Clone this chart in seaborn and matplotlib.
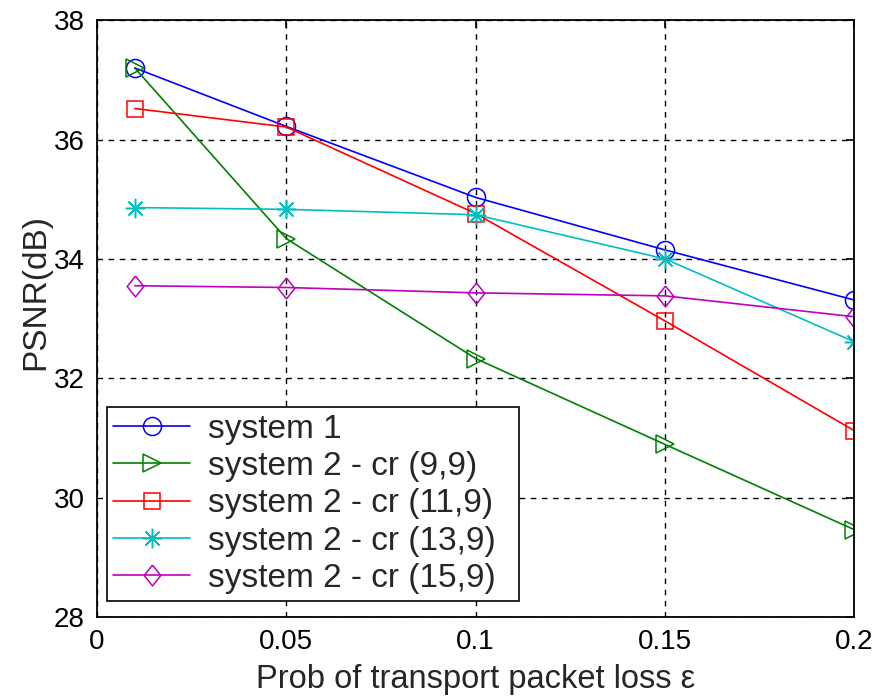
import numpy as np
import pandas as pd
import matplotlib
matplotlib.use("Agg")
import matplotlib.pyplot as plt
import seaborn as sns

# Data
loss_prob = [0.01, 0.05, 0.10, 0.15, 0.20]
psnr_sys1 = [37.20, 36.22, 35.03, 34.15, 33.31]
psnr_cr_9_9 = [37.20, 34.34, 32.33, 30.89, 29.46]
psnr_cr_11_9 = [36.52, 36.21, 34.76, 32.96, 31.12]
psnr_cr_13_9 = [34.86, 34.83, 34.74, 34.00, 32.61]
psnr_cr_15_9 = [33.55, 33.52, 33.43, 33.38, 33.03]

series_names = ["system 1", "system 2 - cr (9,9)", "system 2 - cr (11,9)",
                "system 2 - cr (13,9)", "system 2 - cr (15,9)"]
series_values = [psnr_sys1, psnr_cr_9_9, psnr_cr_11_9, psnr_cr_13_9, psnr_cr_15_9]

x_ticks = [0, 0.05, 0.1, 0.15, 0.2]
x_tick_labels = ["0", "0.05", "0.1", "0.15", "0.2"]
y_ticks = [28, 30, 32, 34, 36, 38]

sns.set_style("white")
plt.rcParams['font.family'] = ['Liberation Sans', 'DejaVu Sans']

# MATLAB-like colours and markers
diamond = [(0, 1), (0.8, 0), (0, -1), (-0.8, 0), (0, 1)]
colors = ['#0000ff', '#008000', '#ff0000', '#00bfbf', '#bf00bf']
markers = ['o', '>', 's', (8, 2, 0), diamond]
sizes = [13, 13, 11, 14, 15]

fig, ax = plt.subplots(figsize=(8.89, 6.97), dpi=100)
fig.subplots_adjust(left=0.109, right=0.961, top=0.971, bottom=0.115)

for name, vals, c, m, s in zip(series_names, series_values, colors, markers, sizes):
    df = pd.DataFrame({'loss': loss_prob, 'psnr': vals})
    sns.lineplot(data=df, x='loss', y='psnr', ax=ax, color=c, marker=m,
                 markersize=s, markerfacecolor='none', markeredgecolor=c,
                 markeredgewidth=1.1, linewidth=1.2, label=name)

ax.set_xlim(0, 0.2)
ax.set_ylim(28, 38)
ax.set_xticks(x_ticks)
ax.set_xticklabels(x_tick_labels)
ax.set_yticks(y_ticks)

ax.grid(True, color='black', linestyle=(0, (4, 4)), linewidth=1.0)
ax.tick_params(direction='in', length=6, width=1.2, labelsize=20, colors='black',
               top=True, right=True, pad=9)
for sp in ax.spines.values():
    sp.set_color('black')
    sp.set_linewidth(1.3)

ax.set_xlabel("Prob of transport packet loss \u03b5", fontsize=23.5, labelpad=6)
ax.set_ylabel("PSNR(dB)", fontsize=24)
ax.yaxis.set_label_coords(-0.06, 0.544)

# legend box stretched to the reference width
leg = ax.legend(loc='lower left', bbox_to_anchor=(0.013, 0.027, 0.544, 0.33),
                mode='expand', fontsize=24,
                frameon=True, fancybox=False, edgecolor='black', framealpha=1,
                handlelength=2.3, borderpad=0.2, labelspacing=0.19,
                handletextpad=0.55, borderaxespad=0)
leg.get_frame().set_linewidth(1.2)

fig.savefig("out.png", dpi=100)
